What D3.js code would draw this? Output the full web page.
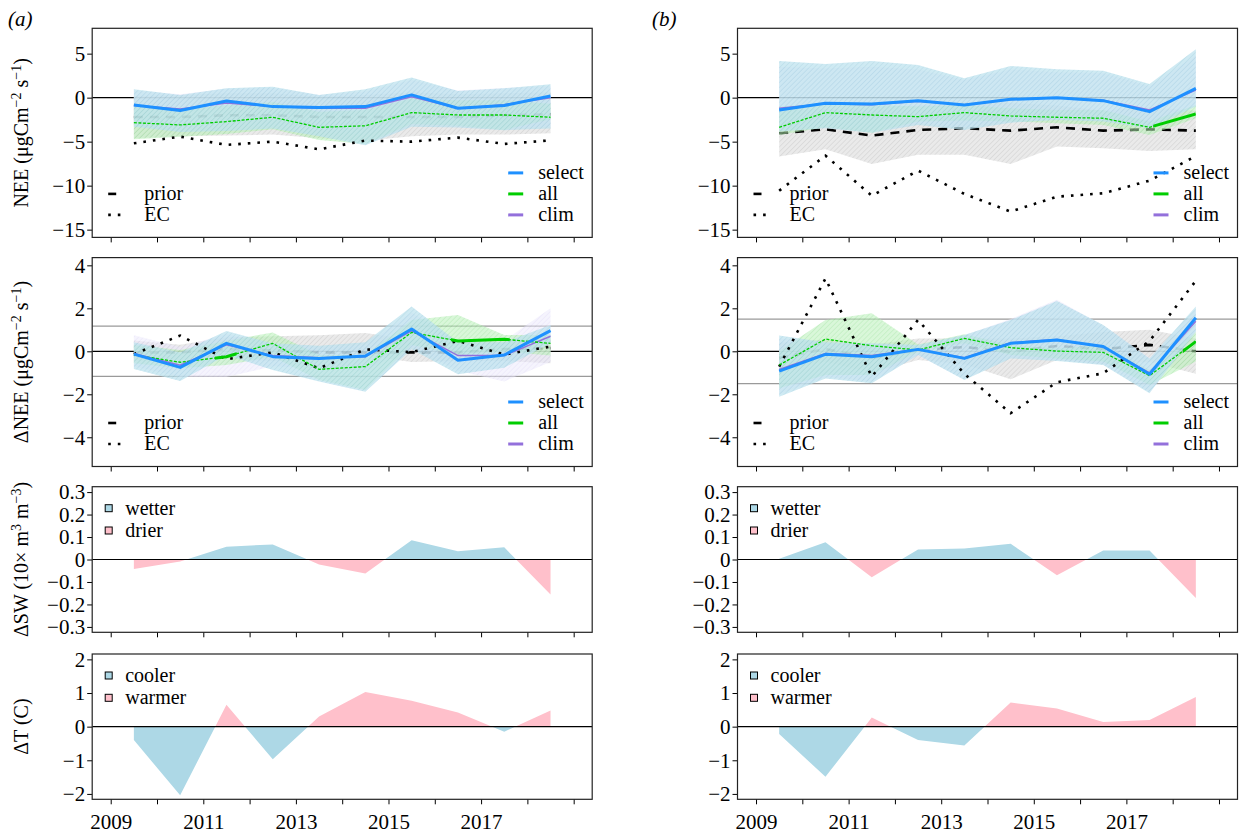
<!DOCTYPE html>
<html>
<head>
<meta charset="utf-8">
<script src="https://cdn.jsdelivr.net/npm/d3@7"></script>
<style>
  body { margin: 0; background: #fff; }
  svg text { fill: #000; }
</style>
</head>
<body>
<svg id="chart" width="1240" height="836"></svg>
<script>
// years are plotted at mid-year
const years = [2009.5, 2010.5, 2011.5, 2012.5, 2013.5, 2014.5, 2015.5, 2016.5, 2017.5, 2018.5];
const xTicks = [2009, 2010, 2011, 2012, 2013, 2014, 2015, 2016, 2017, 2018, 2019];
const xLabels = [2009, 2011, 2013, 2015, 2017];

// ---- (a) NEE
const neeSelectA   = [-0.83, -1.47, -0.38, -1.02, -1.13, -1.02, 0.31, -1.21, -0.90, 0.19];
const neeSelectHiA = [0.95, 0.31, 1.06, 1.25, 0.31, 0.95, 2.28, 0.76, 1.06, 1.52];
const neeSelectLoA = [-3.3, -3.9, -3.8, -3.5, -4.4, -5.4, -3.3, -3.4, -3.7, -3.5];
const neeAllA      = [-2.84, -3.10, -2.72, -2.23, -3.37, -3.20, -1.70, -1.97, -1.97, -2.23];
const neeAllHiA    = [-1.0, -1.2, -0.9, -0.5, -1.6, -1.4, -0.1, -0.3, -0.3, -0.7];
const neeAllLoA    = [-4.73, -4.43, -4.13, -3.6, -4.8, -5.26, -3.0, -3.2, -3.67, -2.46];
const neeClimA     = [-0.9, -1.3, -0.6, -1.0, -1.2, -1.2, 0.1, -1.2, -0.8, 0.0];
const neeClimHiA   = [0.8, 0.4, 1.0, 1.1, 0.3, 0.7, 2.0, 0.8, 1.1, 1.3];
const neeClimLoA   = [-2.9, -3.4, -3.2, -3.1, -3.9, -4.2, -2.9, -3.2, -3.5, -3.3];
const neePriorA    = [-2.2, -2.2, -2.0, -2.0, -2.2, -2.2, -2.2, -2.2, -2.0, -1.9];
const neePriorHiA  = [0.2, 0.3, 0.5, 0.5, 0.1, 0.3, 0.6, 0.4, 0.5, 0.6];
const neePriorLoA  = [-4.6, -4.4, -4.3, -4.2, -4.6, -4.9, -4.4, -4.2, -4.2, -4.05];
const neeEcA       = [-5.19, -4.43, -5.37, -5.0, -5.87, -4.88, -5.0, -4.54, -5.26, -4.85];

// ---- (a) delta NEE
const dneeSelectA   = [-0.13, -0.75, 0.37, -0.25, -0.33, -0.22, 1.04, -0.42, -0.17, 0.96];
const dneeSelectHiA = [0.42, -0.05, 0.94, 0.37, 0.26, 0.42, 2.08, 0.42, 0.42, 1.22];
const dneeSelectLoA = [-0.82, -1.38, -0.17, -0.87, -1.41, -1.88, 0.1, -1.07, -0.76, 0.37];
const dneeAllA      = [-0.17, -0.51, -0.25, 0.37, -0.84, -0.71, 0.88, 0.48, 0.56, 0.37];
const dneeAllHiA    = [0.29, 0.06, 0.48, 0.88, -0.17, -0.17, 1.46, 1.69, 0.76, 0.76];
const dneeAllLoA    = [-0.56, -0.79, -0.64, -0.25, -1.33, -1.8, 0.29, -0.17, -0.02, -0.2];
const dneeClimA     = [-0.1, -0.65, 0.3, -0.2, -0.3, -0.25, 0.95, -0.2, -0.2, 0.7];
const dneeClimHiA   = [0.75, 0.2, 0.8, 0.3, 0.2, 0.3, 1.8, 0.5, 0.5, 2.0];
const dneeClimLoA   = [-0.7, -1.2, -1.2, -0.7, -0.8, -0.9, 0.2, -0.9, -1.4, -0.5];
const dneePriorA    = [-0.05, -0.05, 0.1, 0.05, -0.05, -0.05, -0.05, -0.05, 0.1, 0.15];
const dneePriorHiA  = [0.5, 0.3, 0.65, 0.7, 0.75, 0.85, 0.55, 0.45, 0.5, 0.6];
const dneePriorLoA  = [-0.45, -0.4, -0.35, -0.45, -0.35, -0.2, -0.5, -0.45, -0.45, -0.55];
const dneeEcA       = [-0.13, 0.73, -0.37, -0.05, -0.79, 0.09, -0.04, 0.48, -0.15, 0.22];
const dneeSdA = 1.17;

// ---- (b) NEE
const neeSelectB   = [-1.4, -0.64, -0.72, -0.34, -0.83, -0.19, 0.0, -0.34, -1.59, 1.06];
const neeSelectHiB = [4.17, 3.83, 4.17, 3.7, 2.2, 3.6, 3.22, 3.07, 1.56, 5.5];
const neeSelectLoB = [-3.86, -3.48, -4.0, -3.1, -3.67, -2.84, -2.53, -2.7, -3.48, -1.02];
const neeAllB      = [-3.37, -1.7, -1.97, -2.16, -1.7, -2.08, -2.23, -2.34, -3.37, -1.85];
const neeAllHiB    = [-1.0, -0.64, -0.83, -1.0, -0.83, -1.2, -1.4, -1.4, -2.7, -0.83];
const neeAllLoB    = [-4.24, -3.37, -4.0, -2.7, -2.6, -2.7, -2.9, -3.1, -4.24, -2.34];
const neeClimB     = [-1.2, -0.7, -0.8, -0.4, -0.8, -0.2, 0.0, -0.3, -1.4, 0.85];
const neeClimHiB   = [3.5, 3.3, 3.5, 3.2, 2.0, 3.2, 2.9, 2.8, 1.3, 4.8];
const neeClimLoB   = [-3.5, -3.2, -3.6, -2.9, -3.4, -2.6, -2.4, -2.5, -3.3, -0.9];
const neePriorB    = [-4.05, -3.6, -4.31, -3.67, -3.48, -3.75, -3.37, -3.75, -3.6, -3.75];
const neePriorHiB  = [-1.4, -1.3, -1.1, -0.9, -0.5, -0.6, -0.9, -1.5, -1.1, -1.5];
const neePriorLoB  = [-6.7, -5.87, -7.53, -6.5, -6.5, -7.53, -5.56, -5.75, -6.06, -5.87];
const neeEcB       = [-10.57, -6.59, -11.14, -8.29, -10.94, -12.95, -11.25, -10.87, -9.43, -6.63];

// ---- (b) delta NEE
const dneeSelectB   = [-0.92, -0.14, -0.25, 0.09, -0.33, 0.37, 0.53, 0.22, -1.07, 1.56];
const dneeSelectHiB = [0.73, 0.42, 0.37, 0.29, 0.76, 1.46, 2.34, 1.22, -0.33, 2.08];
const dneeSelectLoB = [-2.11, -1.26, -1.49, -0.17, -1.33, -0.33, -0.45, -0.64, -1.95, 0.91];
const dneeAllB      = [-0.64, 0.57, 0.26, 0.06, 0.6, 0.17, 0.01, -0.05, -1.13, 0.45];
const dneeAllHiB    = [0.0, 1.46, 1.77, 0.32, 0.79, 0.29, 0.13, 0.29, -0.87, 0.91];
const dneeAllLoB    = [-1.72, -1.1, -1.1, -0.02, 0.37, -0.17, -0.33, -0.48, -1.57, -0.48];
const dneeClimB     = [-0.85, -0.1, -0.2, 0.1, -0.3, 0.4, 0.55, 0.2, -1.0, 1.4];
const dneeClimHiB   = [0.6, 0.4, 0.35, 0.3, 0.75, 1.5, 2.4, 1.2, -0.3, 1.9];
const dneeClimLoB   = [-2.0, -1.2, -1.4, -0.2, -1.3, -0.3, -0.4, -0.6, -1.9, 0.8];
const dneePriorB    = [-0.3, 0.1, -0.3, 0.05, 0.2, -0.02, 0.25, 0.1, 0.3, 0.0];
const dneePriorHiB  = [0.4, 0.55, 0.3, 0.6, 0.6, 0.6, 0.7, 0.9, 1.0, 0.6];
const dneePriorLoB  = [-0.9, -0.5, -1.0, -0.4, -0.6, -1.3, -0.4, -0.6, -0.5, -1.05];
const dneeEcB       = [-0.71, 3.39, -1.18, 1.46, -1.05, -2.88, -1.44, -1.02, 0.48, 3.28];
const dneeSdB = 1.5;

// thick "all" segments, as [from, to] years
const allBoldNeeA = [];
const allBoldDneeA = [[2011.25, 2011.72], [2016.35, 2017.62]];
const allBoldNeeB = [[2017.58, 2018.5]];
const allBoldDneeB = [[2018.22, 2018.5]];

// ---- soil water and temperature anomalies
const swA = [-0.042, -0.009, 0.057, 0.067, -0.022, -0.062, 0.086, 0.037, 0.054, -0.156];
const swB = [0.003, 0.077, -0.079, 0.045, 0.049, 0.07, -0.07, 0.04, 0.04, -0.171];
const tA = [-0.40, -2.04, 0.65, -0.97, 0.30, 1.03, 0.77, 0.42, -0.15, 0.48];
const tB = [-0.22, -1.49, 0.27, -0.40, -0.56, 0.72, 0.54, 0.14, 0.20, 0.88];

const lineLegend = ['select', 'all', 'clim'];
const refLegend = ['prior', 'EC'];
const swLegend = ['wetter', 'drier'];
const tLegend = ['cooler', 'warmer'];

const yTitles = [
  [['NEE (μgCm', 0], ['−2', 1], [' s', 0], ['−1', 1], [')', 0]],
  [['ΔNEE (μgCm', 0], ['−2', 1], [' s', 0], ['−1', 1], [')', 0]],
  [['ΔSW (10× m', 0], ['3', 1], [' m', 0], ['−3', 1], [')', 0]],
  [['ΔT (C)', 0]]
];

const colors = { select: '#1E90FF', all: '#00CD00', clim: '#9370DB', prior: '#000' };

const rows = [
  { top: 28.3, bottom: 237.4, lim: [-15, 7], ticks: [-15, -10, -5, 0, 5], fmt: d3.format('d') },
  { top: 257.6, bottom: 466.5, lim: [-5, 4], ticks: [-4, -2, 0, 2, 4], fmt: d3.format('d') },
  { top: 486.7, bottom: 632.3, lim: [-0.3, 0.3], ticks: [-0.3, -0.2, -0.1, 0, 0.1, 0.2, 0.3], fmt: d => d === 0 ? '0' : d3.format('.1f')(d) },
  { top: 654, bottom: 799.3, lim: [-2, 2], ticks: [-2, -1, 0, 1, 2], fmt: d3.format('d') }
];
const cols = [
  { x0: 92.2, x1: 592.2, tag: '(a)', tagX: 8 },
  { x0: 737.5, x1: 1237.5, tag: '(b)', tagX: 652 }
];

const fluxData = [
  [
    { select: neeSelectA, selectHi: neeSelectHiA, selectLo: neeSelectLoA, all: neeAllA, allHi: neeAllHiA, allLo: neeAllLoA,
      clim: neeClimA, climHi: neeClimHiA, climLo: neeClimLoA, prior: neePriorA, priorHi: neePriorHiA, priorLo: neePriorLoA,
      ec: neeEcA, bold: allBoldNeeA },
    { select: dneeSelectA, selectHi: dneeSelectHiA, selectLo: dneeSelectLoA, all: dneeAllA, allHi: dneeAllHiA, allLo: dneeAllLoA,
      clim: dneeClimA, climHi: dneeClimHiA, climLo: dneeClimLoA, prior: dneePriorA, priorHi: dneePriorHiA, priorLo: dneePriorLoA,
      ec: dneeEcA, bold: allBoldDneeA, sd: dneeSdA }
  ],
  [
    { select: neeSelectB, selectHi: neeSelectHiB, selectLo: neeSelectLoB, all: neeAllB, allHi: neeAllHiB, allLo: neeAllLoB,
      clim: neeClimB, climHi: neeClimHiB, climLo: neeClimLoB, prior: neePriorB, priorHi: neePriorHiB, priorLo: neePriorLoB,
      ec: neeEcB, bold: allBoldNeeB },
    { select: dneeSelectB, selectHi: dneeSelectHiB, selectLo: dneeSelectLoB, all: dneeAllB, allHi: dneeAllHiB, allLo: dneeAllLoB,
      clim: dneeClimB, climHi: dneeClimHiB, climLo: dneeClimLoB, prior: dneePriorB, priorHi: dneePriorHiB, priorLo: dneePriorLoB,
      ec: dneeEcB, bold: allBoldDneeB, sd: dneeSdB }
  ]
];
const anomData = [[swA, tA], [swB, tB]];
const anomSpecs = [
  { legend: swLegend, legendFill: ['lightblue', 'pink'], pos: 'lightblue', neg: 'pink' },
  { legend: tLegend, legendFill: ['lightblue', 'pink'], pos: 'pink', neg: 'lightblue' }
];

const fontFamily = 'Liberation Serif, Times New Roman, serif';
const svg = d3.select('#chart').attr('font-family', fontFamily);
const defs = svg.append('defs');

// hatched fills, like R polygon density lines over a pale fill
function hatch(id, bg, stroke) {
  const p = defs.append('pattern')
    .attr('id', id)
    .attr('patternUnits', 'userSpaceOnUse')
    .attr('width', 3.5).attr('height', 3.5)
    .attr('patternTransform', 'rotate(45)');
  p.append('rect').attr('width', 3.5).attr('height', 3.5).attr('fill', bg);
  p.append('line').attr('x1', 0).attr('y1', 0).attr('x2', 0).attr('y2', 3.5)
    .attr('stroke', stroke).attr('stroke-width', 0.9);
}
hatch('h-prior', '#dcdcdc', '#a8a8a8');
hatch('h-clim', '#ebe8fb', '#cfc6f2');
hatch('h-all', '#b9f0b9', '#74d874');
hatch('h-select', '#bde2ee', '#93c9dc');

const xDomain = [2008.6, 2019.4];
const fs = 20;

function makePanel(ci, ri) {
  const c = cols[ci], r = rows[ri];
  const x = d3.scaleLinear().domain(xDomain).range([c.x0, c.x1]);
  const ext = (r.lim[1] - r.lim[0]) * 0.04;
  const y = d3.scaleLinear().domain([r.lim[0] - ext, r.lim[1] + ext]).range([r.bottom, r.top]);
  const g = svg.append('g');
  const clipId = `clip-${ci}-${ri}`;
  defs.append('clipPath').attr('id', clipId)
    .append('rect').attr('x', c.x0).attr('y', r.top)
    .attr('width', c.x1 - c.x0).attr('height', r.bottom - r.top);
  const plot = g.append('g').attr('clip-path', `url(#${clipId})`);
  return { x, y, g, plot, c, r, ri, ci };
}

function finishPanel(p) {
  const { x, y, g, c, r, ri } = p;
  const xa = g.append('g')
    .attr('transform', `translate(0,${r.bottom})`)
    .call(d3.axisBottom(x).tickValues(xTicks).tickSize(5).tickSizeOuter(0).tickPadding(10)
      .tickFormat(d => (ri === 3 && xLabels.includes(d)) ? String(d) : ''));
  const ya = g.append('g')
    .attr('transform', `translate(${c.x0},0)`)
    .call(d3.axisLeft(y).tickValues(r.ticks).tickSize(5).tickSizeOuter(0).tickPadding(2).tickFormat(r.fmt));
  [xa, ya].forEach(a => {
    a.attr('font-family', fontFamily).attr('font-size', 21);
    a.select('.domain').remove();
    a.selectAll('.tick line').attr('stroke', '#000');
  });
  g.append('rect')
    .attr('x', c.x0).attr('y', r.top)
    .attr('width', c.x1 - c.x0).attr('height', r.bottom - r.top)
    .attr('fill', 'none').attr('stroke', '#222').attr('stroke-width', 1.2);
}

function fluxPanel(ci, ri) {
  const p = makePanel(ci, ri);
  const { x, y, plot, c, r } = p;
  const d = fluxData[ci][ri];
  const band = (lo, hi) => d3.area().x((v, i) => x(years[i])).y0((v, i) => y(lo[i])).y1((v, i) => y(hi[i]));
  const line = d3.line().x((v, i) => x(years[i])).y(v => y(v));
  const hline = (v, col, w) => plot.append('line')
    .attr('x1', c.x0).attr('x2', c.x1).attr('y1', y(v)).attr('y2', y(v))
    .attr('stroke', col).attr('stroke-width', w);

  hline(0, '#000', 1.2);
  if (d.sd !== undefined) {
    hline(d.sd, '#9a9a9a', 1.2);
    hline(-d.sd, '#9a9a9a', 1.2);
  }

  plot.append('path').datum(d.priorLo).attr('d', band(d.priorLo, d.priorHi))
    .attr('fill', 'url(#h-prior)').attr('opacity', 0.6);
  plot.append('path').datum(d.prior).attr('d', line)
    .attr('fill', 'none').attr('stroke', colors.prior).attr('stroke-width', 2.6)
    .attr('stroke-dasharray', '9,7');
  plot.append('path').datum(d.climLo).attr('d', band(d.climLo, d.climHi))
    .attr('fill', 'url(#h-clim)').attr('opacity', 0.5);
  plot.append('path').datum(d.allLo).attr('d', band(d.allLo, d.allHi))
    .attr('fill', 'url(#h-all)').attr('opacity', 0.55);
  plot.append('path').datum(d.selectLo).attr('d', band(d.selectLo, d.selectHi))
    .attr('fill', 'url(#h-select)').attr('opacity', 0.72);

  plot.append('path').datum(d.ec).attr('d', line)
    .attr('fill', 'none').attr('stroke', '#000').attr('stroke-width', 2.6)
    .attr('stroke-dasharray', '2.6,7');
  plot.append('path').datum(d.clim).attr('d', line)
    .attr('fill', 'none').attr('stroke', colors.clim).attr('stroke-width', 1.5);
  plot.append('path').datum(d.all).attr('d', line)
    .attr('fill', 'none').attr('stroke', colors.all).attr('stroke-width', 1.3)
    .attr('stroke-dasharray', '3,1.5');
  d.bold.forEach((seg, k) => {
    const id = `bold-${ci}-${ri}-${k}`;
    defs.append('clipPath').attr('id', id).append('rect')
      .attr('x', x(seg[0])).attr('y', r.top)
      .attr('width', x(seg[1]) - x(seg[0])).attr('height', r.bottom - r.top);
    plot.append('path').datum(d.all).attr('d', line).attr('clip-path', `url(#${id})`)
      .attr('fill', 'none').attr('stroke', colors.all).attr('stroke-width', 3);
  });
  plot.append('path').datum(d.select).attr('d', line)
    .attr('fill', 'none').attr('stroke', colors.select).attr('stroke-width', 3)
    .attr('stroke-linejoin', 'round');

  // legends
  const leg = p.g.append('g');
  lineLegend.forEach((name, k) => {
    const ly = r.bottom - 64.5 + k * 21;
    leg.append('line').attr('x1', c.x1 - 84).attr('x2', c.x1 - 69).attr('y1', ly).attr('y2', ly)
      .attr('stroke', colors[name]).attr('stroke-width', 3);
    leg.append('text').attr('x', c.x1 - 54).attr('y', ly).attr('dy', '0.32em')
      .attr('font-size', fs).text(name);
  });
  refLegend.forEach((name, k) => {
    const ly = r.bottom - 43.5 + k * 21;
    if (name === 'prior') {
      leg.append('line').attr('x1', c.x0 + 16).attr('x2', c.x0 + 24).attr('y1', ly).attr('y2', ly)
        .attr('stroke', '#000').attr('stroke-width', 2.6);
    } else {
      leg.append('line').attr('x1', c.x0 + 16).attr('x2', c.x0 + 29).attr('y1', ly).attr('y2', ly)
        .attr('stroke', '#000').attr('stroke-width', 2.6).attr('stroke-dasharray', '2.6,7');
    }
    leg.append('text').attr('x', c.x0 + 52).attr('y', ly).attr('dy', '0.32em')
      .attr('font-size', fs).text(name);
  });
  finishPanel(p);
}

function anomPanel(ci, ri) {
  const p = makePanel(ci, ri);
  const { x, y, plot, c, r } = p;
  const vals = anomData[ci][ri - 2];
  const spec = anomSpecs[ri - 2];
  const y0 = y(0);
  const area = d3.area().x((v, i) => x(years[i])).y0(y0).y1(v => y(v));
  const upId = `up-${ci}-${ri}`, dnId = `dn-${ci}-${ri}`;
  defs.append('clipPath').attr('id', upId).append('rect')
    .attr('x', c.x0).attr('y', r.top).attr('width', c.x1 - c.x0).attr('height', y0 - r.top);
  defs.append('clipPath').attr('id', dnId).append('rect')
    .attr('x', c.x0).attr('y', y0).attr('width', c.x1 - c.x0).attr('height', r.bottom - y0);
  plot.append('path').datum(vals).attr('d', area).attr('clip-path', `url(#${upId})`).attr('fill', spec.pos);
  plot.append('path').datum(vals).attr('d', area).attr('clip-path', `url(#${dnId})`).attr('fill', spec.neg);
  plot.append('line').attr('x1', c.x0).attr('x2', c.x1).attr('y1', y0).attr('y2', y0)
    .attr('stroke', '#000').attr('stroke-width', 1.2);

  spec.legend.forEach((name, k) => {
    const ly = r.top + 21.5 + k * 22.3;
    p.g.append('rect').attr('x', c.x0 + 13).attr('y', ly - 3.5).attr('width', 7).attr('height', 7)
      .attr('fill', spec.legendFill[k]).attr('stroke', '#000').attr('stroke-width', 1);
    p.g.append('text').attr('x', c.x0 + 33).attr('y', ly).attr('dy', '0.32em')
      .attr('font-size', fs).text(name);
  });
  finishPanel(p);
}

[0, 1].forEach(ci => {
  fluxPanel(ci, 0);
  fluxPanel(ci, 1);
  anomPanel(ci, 2);
  anomPanel(ci, 3);
  svg.append('text').attr('x', cols[ci].tagX).attr('y', 26)
    .attr('font-size', 21).attr('font-style', 'italic').text(cols[ci].tag);
});

// y titles (left column only)
yTitles.forEach((parts, ri) => {
  const r = rows[ri];
  const t = svg.append('text')
    .attr('transform', `translate(21,${(r.top + r.bottom) / 2}) rotate(-90)`)
    .attr('text-anchor', 'middle').attr('dy', '0.35em').attr('font-size', 20);
  let up = false;
  parts.forEach(([s, sup]) => {
    const ts = t.append('tspan').text(s);
    if (sup && !up) { ts.attr('dy', -7).attr('font-size', 14); up = true; }
    else if (sup) { ts.attr('font-size', 14); }
    else if (up) { ts.attr('dy', 7); up = false; }
  });
});
</script>
</body>
</html>
